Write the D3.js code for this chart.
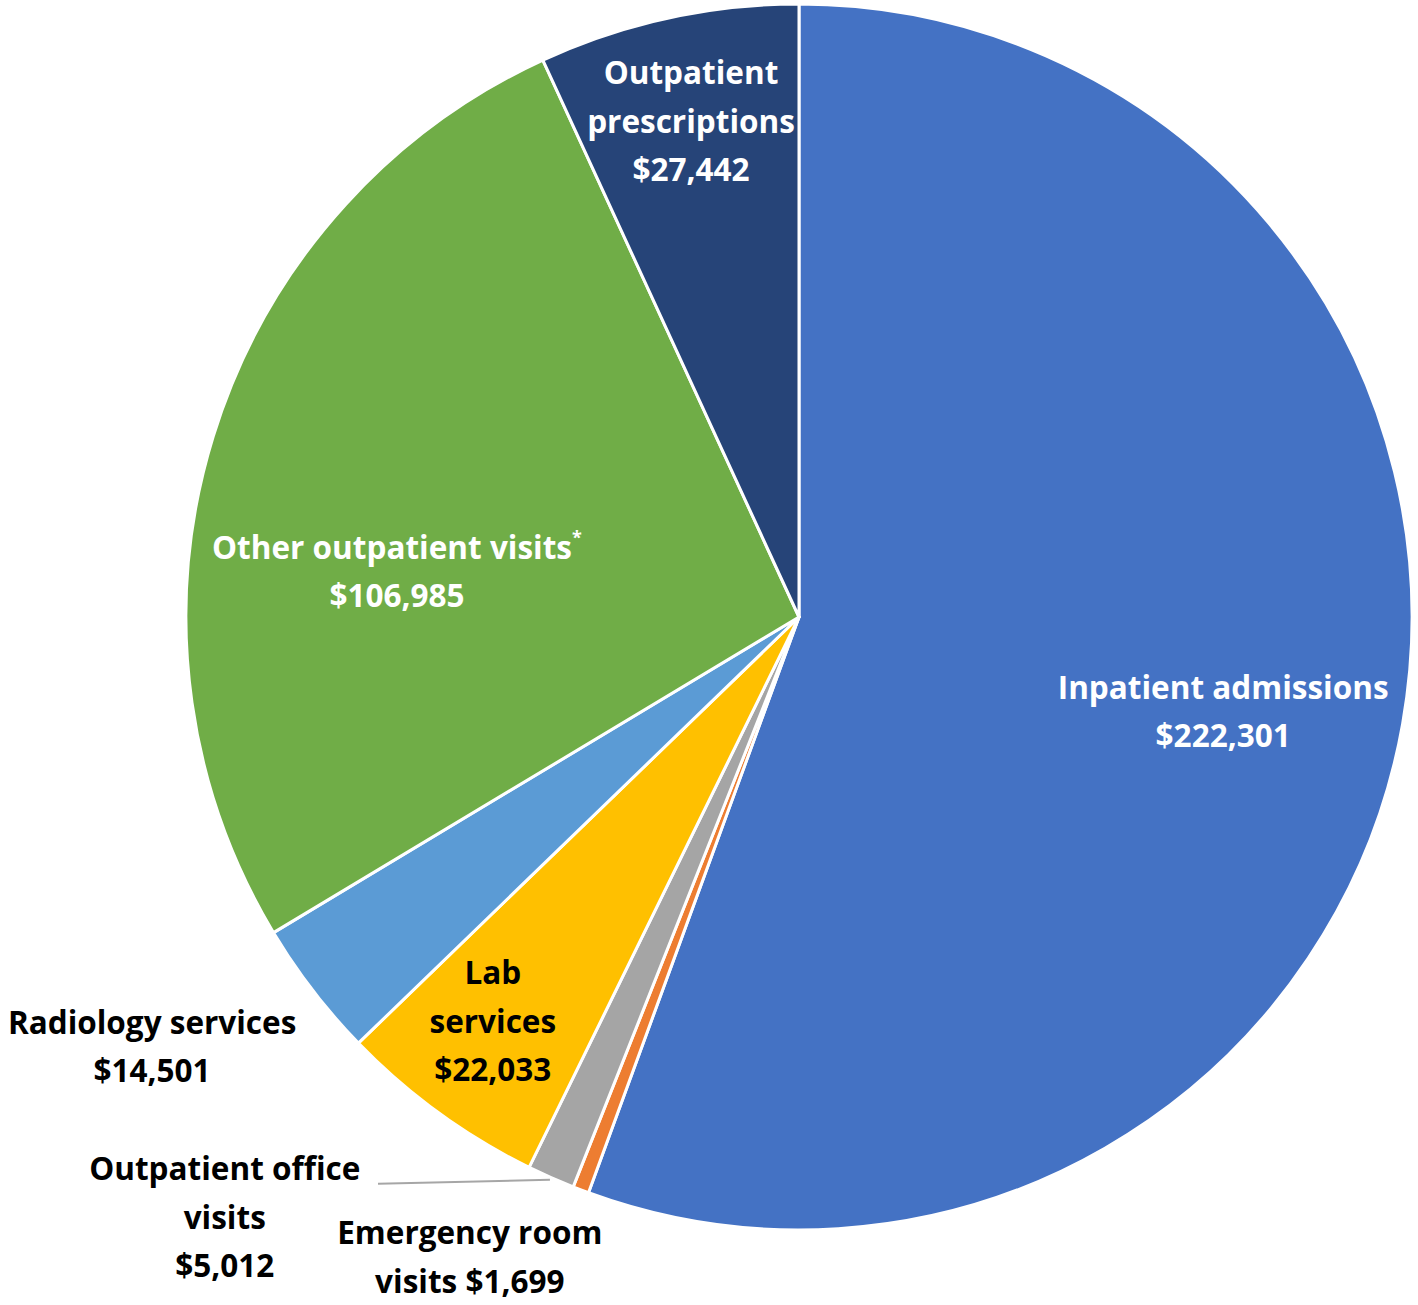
<!DOCTYPE html>
<html><head><meta charset="utf-8">
<script src="https://cdn.jsdelivr.net/npm/d3@7"></script>
<style>
html,body{margin:0;padding:0;background:#fff;}
text{font-family:"Open Sans",Lato,sans-serif;font-weight:700;font-variant-ligatures:none;}
</style></head>
<body><svg id="chart" width="1418" height="1305"></svg>
<script>
// ---- data ----
const categories = ["Inpatient admissions","Emergency room visits","Outpatient office visits","Lab services","Radiology services","Other outpatient visits","Outpatient prescriptions"];
const values = [222301, 1699, 5012, 22033, 14501, 106985, 27442];
const labelLines = [
  ["Inpatient admissions","$222,301"],
  ["Emergency room","visits $1,699"],
  ["Outpatient office","visits","$5,012"],
  ["Lab","services","$22,033"],
  ["Radiology services","$14,501"],
  ["Other outpatient visits","$106,985"],
  ["Outpatient","prescriptions","$27,442"]
];
// ---- style / layout ----
const colors = ["#4472C4","#ED7D31","#A5A5A5","#FFC000","#5B9BD5","#70AD47","#264478"];
const textColors = ["#fff","#000","#000","#000","#000","#fff","#fff"];
// label anchor in polar coords relative to pie center: radius (fraction of R), angle (deg clockwise from top)
const labelPos = [
  {r:0.709, a:102.6},
  {r:1.175, a:207.2},
  {r:1.356, a:223.7},
  {r:0.828, a:217.1},
  {r:1.267, a:236.4},
  {r:0.660, a:276.4},
  {r:0.827, a:347.7}
];
const cx = 799, cy = 617, R = 613;
const fontSize = 31.5, lineH = 48.5;

const svg = d3.select("#chart");
const g = svg.append("g").attr("transform",`translate(${cx},${cy})`);
const data = categories.map((c,i)=>({cat:c, value:values[i], i}));
const pie = d3.pie().value(d=>d.value).sort(null);
const arc = d3.arc().innerRadius(0).outerRadius(R);
const arcs = pie(data);

g.selectAll("path.slice").data(arcs).join("path")
  .attr("class","slice")
  .attr("d",arc)
  .attr("fill",d=>colors[d.data.i])
  .attr("stroke","#fff").attr("stroke-width",3).attr("stroke-linejoin","round");

// leader line for outpatient office visits
const office = arcs[2];
const officeMid = (office.startAngle+office.endAngle)/2;
const lx1 = Math.sin(officeMid)*(R*1.004), ly1 = -Math.cos(officeMid)*(R*1.004);
g.append("line")
  .attr("x1", lx1).attr("y1", ly1)
  .attr("x2", -421).attr("y2", ly1+4)
  .attr("stroke","#A6A6A6").attr("stroke-width",2);

arcs.forEach((d,k)=>{
  const i = d.data.i;
  const p = labelPos[i];
  const ang = p.a*Math.PI/180;
  const x = Math.sin(ang)*p.r*R, y = -Math.cos(ang)*p.r*R;
  const lines = labelLines[i];
  const t = g.append("text")
    .attr("text-anchor","middle")
    .attr("fill",textColors[i])
    .attr("font-size",fontSize);
  lines.forEach((ln,j)=>{
    const ts = t.append("tspan").attr("x",x)
      .attr("y", y + (j-(lines.length-1)/2)*lineH)
      .attr("dy","0.35em")
      .text(ln);
    if (i===5 && j===0) {
      ts.append("tspan").attr("font-size",18).attr("dy","-0.8em").text("*");
    }
  });
});
</script></body></html>
